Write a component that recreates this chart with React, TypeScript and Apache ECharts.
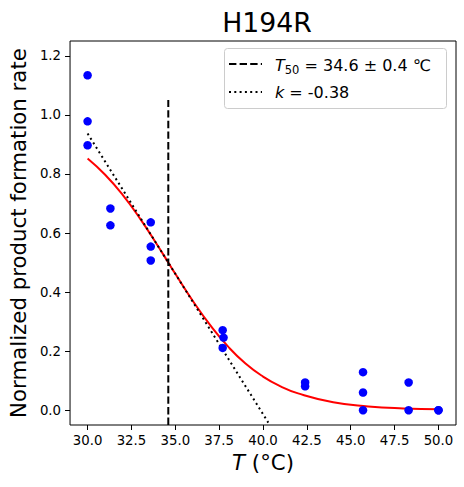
import React, { useEffect, useRef } from "react";
import * as echarts from "echarts";

const FONT = "DejaVu Sans";

const title = "H194R";
const xRange = [29, 51];
const yRange = [-0.05, 1.25];
const xTicks = [30, 32.5, 35, 37.5, 40, 42.5, 45, 47.5, 50];
const yTicks = [0, 0.2, 0.4, 0.6, 0.8, 1.0, 1.2];

// measured points: temperature (°C) and normalized rate
const tempC = [30, 30, 30, 31.3, 31.3, 33.6, 33.6, 33.6, 37.7, 37.75, 37.7, 42.4, 42.4, 45.7, 45.7, 45.7, 48.3, 48.3, 50, 50];
const rates = [1.134, 0.978, 0.897, 0.683, 0.626, 0.636, 0.554, 0.507, 0.271, 0.246, 0.211, 0.094, 0.081, 0.129, 0.06, 0.0, 0.094, 0.0, 0.0, 0.0];

// fitted curve
const fitT = [30, 31, 32, 33, 34, 34.6, 35, 36, 37, 38, 39, 40, 41, 42, 44, 46, 48, 50];
const fitY = [0.852, 0.797, 0.729, 0.648, 0.557, 0.5, 0.462, 0.37, 0.287, 0.216, 0.158, 0.114, 0.081, 0.057, 0.027, 0.013, 0.006, 0.003];

// tangent at T50
const tangentT = [30, 40.3];
const tangentY = [0.937, -0.042];

// T50 marker
const t50 = 34.6;
const t50Span = [-0.05, 1.05];

const legendLabels = ["{i|T}{s|50}{n| = 34.6 ± 0.4 ℃}", "{i|k}{n| = -0.38}"];

export default function App() {
  const ref = useRef<HTMLDivElement>(null);
  useEffect(() => {
    if (!ref.current) return;
    const chart = echarts.init(ref.current, null, { renderer: "svg" });
    const richBase = {
      i: { fontStyle: "italic", fontSize: 16, lineHeight: 16, fontFamily: FONT, fill: "#000", verticalAlign: "top" },
      s: { fontSize: 11.5, lineHeight: 11, fontFamily: FONT, fill: "#000", verticalAlign: "top", padding: [6.5, 0, 0, 0] },
      n: { fontSize: 16, lineHeight: 16, fontFamily: FONT, fill: "#000", verticalAlign: "top" },
    };
    chart.setOption({
      animation: false,
      backgroundColor: "#fff",
      title: {
        text: title,
        left: 262,
        textAlign: "center",
        top: 4,
        textStyle: { fontFamily: FONT, fontSize: 26.7, fontWeight: "normal", color: "#000" },
      },
      grid: {
        left: 67,
        top: 41,
        right: 8,
        bottom: 62,
        show: true,
        borderColor: "#000",
        borderWidth: 1,
        backgroundColor: "transparent",
      },
      xAxis: {
        type: "value",
        min: xRange[0],
        max: xRange[1],
        axisLine: { show: false, onZero: false },
        splitLine: { show: false },
        axisTick: { show: true, inside: false, length: 5, customValues: xTicks, lineStyle: { color: "#000" } },
        axisLabel: {
          customValues: xTicks,
          formatter: (v: number) => v.toFixed(1),
          fontFamily: FONT,
          fontSize: 13.3,
          color: "#000",
          margin: 9,
        },
        name: "{i|T}{n| (°C)}",
        nameLocation: "middle",
        nameGap: 25,
        nameTextStyle: {
          fontFamily: FONT,
          fontSize: 21.3,
          color: "#000",
          rich: {
            i: { fontStyle: "italic", fontSize: 21.3, fontFamily: FONT, color: "#000" },
            n: { fontSize: 21.3, fontFamily: FONT, color: "#000" },
          },
        },
      },
      yAxis: {
        type: "value",
        min: yRange[0],
        max: yRange[1],
        axisLine: { show: false, onZero: false },
        splitLine: { show: false },
        axisTick: { show: true, inside: false, length: 5, customValues: yTicks, lineStyle: { color: "#000" } },
        axisLabel: {
          customValues: yTicks,
          formatter: (v: number) => v.toFixed(1),
          fontFamily: FONT,
          fontSize: 13.3,
          color: "#000",
          margin: 9,
        },
        name: "Normalized product formation rate",
        nameLocation: "middle",
        nameRotate: 90,
        nameGap: 38,
        nameTextStyle: { fontFamily: FONT, fontSize: 21.3, color: "#000" },
      },
      series: [
        {
          type: "line",
          data: fitT.map((t, i) => [t, fitY[i]]),
          smooth: true,
          showSymbol: false,
          lineStyle: { color: "#ff0000", width: 2 },
          z: 2,
        },
        {
          type: "line",
          data: tangentT.map((t, i) => [t, tangentY[i]]),
          showSymbol: false,
          lineStyle: { color: "#000", width: 2, type: [2, 3.3] },
          z: 2,
        },
        {
          type: "line",
          data: t50Span.map((y) => [t50, y]),
          showSymbol: false,
          lineStyle: { color: "#000", width: 2, type: [7.4, 3.2] },
          z: 2,
        },
        {
          type: "scatter",
          data: tempC.map((t, i) => [t, rates[i]]),
          symbolSize: 8.5,
          itemStyle: { color: "#0000ff", opacity: 1 },
          z: 3,
        },
      ],
      graphic: [
        {
          type: "group",
          z: 100,
          children: [
            {
              type: "rect",
              shape: { x: 224.5, y: 48.5, width: 222, height: 60, r: 3 },
              style: { fill: "rgba(255,255,255,0.8)", stroke: "#cccccc", lineWidth: 1 },
            },
            {
              type: "line",
              shape: { x1: 229, y1: 64, x2: 262, y2: 64 },
              style: { stroke: "#000", lineWidth: 2, lineDash: [7.4, 3.2] },
            },
            {
              type: "line",
              shape: { x1: 229, y1: 92, x2: 262, y2: 92 },
              style: { stroke: "#000", lineWidth: 2, lineDash: [2, 3.3] },
            },
            {
              type: "text",
              x: 275,
              y: 65,
              style: {
                text: legendLabels[0],
                fontFamily: FONT,
                fontSize: 16,
                fill: "#000",
                verticalAlign: "middle",
                align: "left",
                rich: richBase,
              },
            },
            {
              type: "text",
              x: 275,
              y: 92,
              style: {
                text: legendLabels[1],
                fontFamily: FONT,
                fontSize: 16,
                fill: "#000",
                verticalAlign: "middle",
                align: "left",
                rich: richBase,
              },
            },
          ],
        },
      ],
    });
    return () => chart.dispose();
  }, []);
  return (
    <div
      ref={ref}
      style={{ position: "fixed", left: 0, top: 0, width: 464, height: 487, background: "#fff" }}
    />
  );
}
